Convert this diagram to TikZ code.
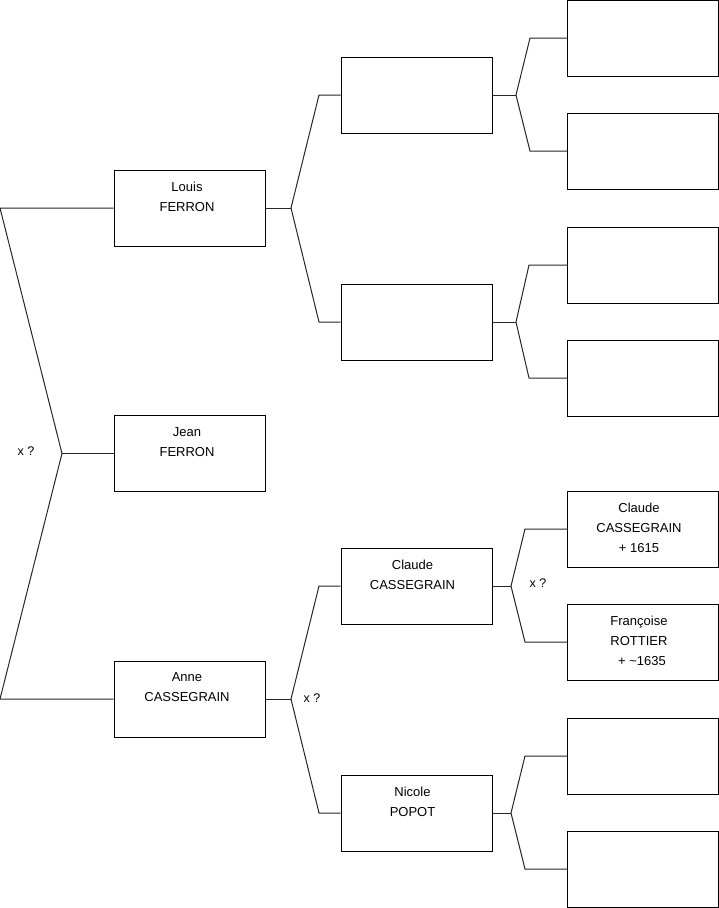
\documentclass[tikz,border=0pt]{standalone}
\usepackage{fontspec}
\setmainfont{Liberation Sans}
\begin{document}
\begin{tikzpicture}[x=1pt,y=-1pt,
  person/.style={draw=black,line width=1pt,minimum width=151pt,minimum height=76pt,inner sep=0pt},
  who/.style={anchor=north,inner sep=0pt,align=center,font=\fontsize{13}{20}\selectfont},
  tag/.style={inner sep=0pt,font=\fontsize{12.5}{15}\selectfont},
  link/.style={draw=black!85,line width=1pt}]
\useasboundingbox (0,0) rectangle (719,908);
% generation 1
\node[person] (louis) at (189.5,208) {};
\node[person] (jean) at (189.5,453.5) {};
\node[person] (anne) at (189.5,699) {};
% generation 2
\node[person] (p1) at (416.5,95) {};
\node[person] (p2) at (416.5,322) {};
\node[person] (p3) at (416.5,586) {};
\node[person] (p4) at (416.5,813) {};
% generation 3
\node[person] (q1) at (643,38) {};
\node[person] (q2) at (643,151) {};
\node[person] (q3) at (643,265) {};
\node[person] (q4) at (643,378) {};
\node[person] (q5) at (643,529) {};
\node[person] (q6) at (643,642) {};
\node[person] (q7) at (643,756) {};
\node[person] (q8) at (643,869) {};
% texts
\node[who] (tlouis) at (187,181.5) {Louis\\FERRON};
\node[who] (tjean) at (187,427.5) {Jean\\FERRON};
\node[who] (tanne) at (187,672.5) {Anne\\CASSEGRAIN};
\node[who] (tp3) at (412.5,559.5) {Claude\\CASSEGRAIN};
\node[who] (tp4) at (412.5,786.5) {Nicole\\POPOT};
\node[who] (tq5) at (639,502.5) {Claude\\CASSEGRAIN\\+ 1615};
\node[who] (tq6) at (639,615.5) {Françoise\\ROTTIER\\\hspace*{6pt}+ \char`~1635};
% labels
\node[tag] (x0) at (26,451) {x ?};
\node[tag] (x1) at (312,698) {x ?};
\node[tag] (x2) at (538,583) {x ?};
% junction coordinates
\coordinate (a0) at (0,208);
\coordinate (j0) at (62,453.5);
\coordinate (b0) at (0,699);
\coordinate (j1) at (291,208);
\coordinate (k1a) at (319,95);
\coordinate (k1b) at (319,322);
\coordinate (j2) at (291,699);
\coordinate (k2a) at (319,586);
\coordinate (k2b) at (319,813);
\coordinate (j3) at (516,95);
\coordinate (k3a) at (530,38);
\coordinate (k3b) at (530,151);
\coordinate (j4) at (516,322);
\coordinate (k4a) at (529,265);
\coordinate (k4b) at (529,378);
\coordinate (j5) at (511,586);
\coordinate (k5a) at (525,529);
\coordinate (k5b) at (525,642);
\coordinate (j6) at (511,813);
\coordinate (k6a) at (525,756);
\coordinate (k6b) at (525,869);
% connectors
\draw[link] (louis.west) -- (a0) -- (j0) -- (b0) -- (anne.west);
\draw[link] (j0) -- (jean.west);
\draw[link] (louis.east) -- (j1);
\draw[link] (p1.west) -- (k1a) -- (j1) -- (k1b) -- (p2.west);
\draw[link] (anne.east) -- (j2);
\draw[link] (p3.west) -- (k2a) -- (j2) -- (k2b) -- (p4.west);
\draw[link] (p1.east) -- (j3);
\draw[link] (q1.west) -- (k3a) -- (j3) -- (k3b) -- (q2.west);
\draw[link] (p2.east) -- (j4);
\draw[link] (q3.west) -- (k4a) -- (j4) -- (k4b) -- (q4.west);
\draw[link] (p3.east) -- (j5);
\draw[link] (q5.west) -- (k5a) -- (j5) -- (k5b) -- (q6.west);
\draw[link] (p4.east) -- (j6);
\draw[link] (q7.west) -- (k6a) -- (j6) -- (k6b) -- (q8.west);
\end{tikzpicture}
\end{document}
